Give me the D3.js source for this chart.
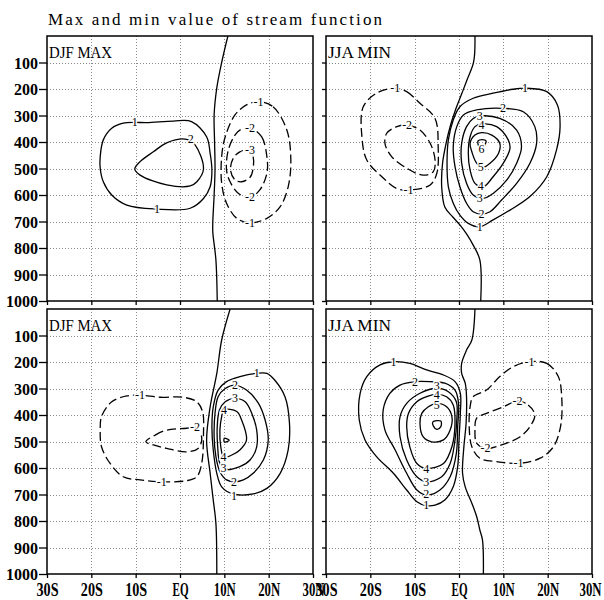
<!DOCTYPE html>
<html><head><meta charset="utf-8">
<script src="https://cdn.jsdelivr.net/npm/d3@7"></script>
<style>body{margin:0;background:#fff}</style>
</head><body>
<svg id="c" width="604" height="600"></svg>
<script>
// ---------- axis data ----------
const latTicks = [-30, -20, -10, 0, 10, 20, 30];
const latLabels = ["30S", "20S", "10S", "EQ", "10N", "20N", "30N"];
const presTicks = [100, 200, 300, 400, 500, 600, 700, 800, 900, 1000];
const presLabels = ["100", "200", "300", "400", "500", "600", "700", "800", "900", "1000"];
const panelTitles = ["DJF MAX", "JJA MIN", "DJF MAX", "JJA MIN"];
const chartTitle = "Max and min value of stream function";

// ---------- contour lines, [latitude, pressure hPa] ----------
// top-left: DJF MAX
const tl_zero = [[10.8,0],[9.4,100],[8.3,196],[7.7,298],[7.8,400],[7.9,502],[7.7,600],[7.4,702],[7.4,740],[8.1,845],[8.4,1000]];
const tl_pos1 = [[-10.2,326],[-12.8,329],[-15.4,348],[-17.3,392],[-18.0,456],[-18.0,499],[-17.3,550],[-15.4,600],[-12.0,638],[-5.3,653],[2.3,650],[5.3,613],[6.8,569],[7.2,506],[6.8,443],[6.0,380],[2.6,323],[-1.5,321],[-7.5,327]];
const tl_pos2 = [[-10.2,502],[-9.0,474],[-6.0,437],[-3.0,403],[1.5,390],[3.4,411],[5.3,502],[3.8,550],[2.3,566],[-3.0,562],[-9.0,525]];
const tl_neg1 = [[17.7,248],[21.0,267],[24.1,355],[25.0,468],[24.4,569],[22.6,644],[19.6,688],[15.8,705],[12.8,688],[10.5,631],[9.4,556],[9.4,455],[10.2,380],[12.4,298],[15.0,260]];
const tl_neg2 = [[15.8,348],[18.4,380],[19.6,455],[19.6,518],[18.0,581],[15.8,609],[13.2,594],[11.3,550],[10.5,506],[10.9,430],[12.4,374],[13.5,355]];
const tl_neg3 = [[15.8,430],[16.5,455],[16.5,499],[15.8,533],[13.9,550],[12.4,543],[11.4,506],[12.0,462],[13.5,437]];
const tl_labels = [["1",-10.2,326],["1",-5.2,653],["2",2.4,390],["-1",17.7,248],["-1",15.8,705],["-2",15.8,348],["-2",15.8,609],["-3",15.8,430]];

// top-right: JJA MIN
const tr_zero = [[3.6,0],[3.3,98],[1.8,166],[0.5,223],[-0.8,279],[-1.9,336],[-2.9,404],[-3.7,479],[-3.9,570],[-3.2,645],[-1.4,683],[0.2,713],[1.7,747],[3.2,789],[4.7,845],[4.9,1000]];
const tr_pos1 = [[14.9,197],[19.8,210],[22.2,260],[22.8,342],[22.0,430],[19.8,531],[16.0,606],[11.5,657],[7.7,694],[4.7,720],[2.1,707],[0.2,676],[-1.3,631],[-2.4,569],[-2.7,480],[-2.4,392],[-1.3,317],[0.2,267],[3.2,235],[7.7,216],[12.2,201]];
const tr_pos2 = [[9.9,273],[14.5,286],[17.1,342],[17.5,405],[16.0,480],[13.0,556],[9.6,619],[7.0,663],[5.1,672],[3.2,663],[1.7,631],[0.2,569],[-0.9,493],[-1.3,418],[-0.5,342],[1.0,298],[4.0,279]];
const tr_pos3 = [[4.7,302],[9.2,311],[13.0,355],[14.1,418],[13.0,480],[10.8,543],[7.7,594],[5.5,613],[3.2,600],[1.7,556],[0.6,480],[0.6,405],[1.7,342],[3.2,311]];
const tr_pos4 = [[5.1,332],[8.5,342],[11.1,392],[11.5,424],[10.0,480],[7.7,531],[5.5,569],[3.6,556],[2.5,506],[2.1,443],[2.5,380],[3.6,342]];
const tr_pos5 = [[5.1,365],[7.4,374],[9.2,405],[8.9,443],[7.0,480],[5.5,495],[4.0,480],[2.9,437],[2.5,405],[3.6,374]];
const tr_pos6 = [[4.3,396],[5.2,391],[6.1,396],[5.6,415],[4.5,415]];
const tr_neg1 = [[-14.4,197],[-11.8,210],[-8.8,254],[-5.4,311],[-4.7,418],[-5.0,518],[-6.5,562],[-11.1,581],[-14.1,575],[-17.4,531],[-20.8,468],[-21.9,380],[-21.6,267],[-18.6,216]];
const tr_neg2 = [[-11.7,336],[-8.8,355],[-6.5,405],[-5.4,468],[-5.8,512],[-8.1,525],[-11.8,499],[-15.2,455],[-16.7,405],[-16.3,367],[-14.0,342]];
const tr_labels = [["1",14.9,197],["1",4.7,720],["2",9.9,273],["2",5.1,670],["3",4.7,300],["3",4.7,613],["4",5.1,334],["4",4.9,566],["5",4.9,495],["6",5.1,428],["-1",-14.4,197],["-1",-11.4,581],["-2",-11.7,336]];

// bottom-left: DJF MAX
const bl_zero = [[11.3,0],[9.4,117],[8.3,243],[6.8,369],[6.0,495],[6.8,620],[7.5,721],[8.1,809],[8.3,1000]];
const bl_pos1 = [[17.3,243],[13.5,255],[10.5,274],[8.6,306],[7.5,369],[7.2,444],[7.5,532],[8.3,620],[9.4,671],[12.0,698],[16.5,698],[19.6,677],[22.6,620],[24.4,532],[24.7,432],[23.7,332],[21.4,269],[19.6,243]];
const bl_pos2 = [[12.4,287],[15.0,306],[17.7,356],[19.2,419],[19.9,495],[18.8,570],[16.5,620],[14.3,645],[12.4,652],[10.5,645],[9.0,614],[8.1,557],[7.7,482],[7.9,394],[8.6,331],[10.2,300]];
const bl_pos3 = [[12.4,337],[14.7,350],[16.2,394],[17.3,457],[17.3,520],[15.8,570],[13.5,595],[10.2,605],[9.0,583],[8.5,520],[8.4,444],[8.9,381],[10.2,350]];
const bl_pos4 = [[9.9,381],[12.8,387],[13.9,419],[15.0,495],[13.5,532],[11.7,551],[9.9,560],[9.2,520],[9.0,457],[9.4,406]];
const bl_pos5 = [[10.0,488],[11.1,495],[10.0,502]];
const bl_neg1 = [[-9.0,325],[-4.5,333],[0.7,333],[3.8,350],[5.1,388],[5.3,469],[4.9,582],[3.8,633],[1.5,648],[-3.8,652],[-9.0,645],[-12.8,633],[-15.8,582],[-17.7,520],[-18.0,457],[-17.7,406],[-15.4,350],[-12.0,328]];
const bl_neg2 = [[-7.7,501],[-5.6,476],[-3.0,457],[1.5,450],[3.4,446],[4.5,463],[4.9,495],[4.1,526],[1.5,539],[-3.0,526],[-6.0,513]];
const bl_labels = [["1",17.3,243],["1",12.2,706],["2",12.4,287],["2",12.2,652],["3",12.4,337],["3",9.8,601],["4",9.9,381],["4",9.8,557],["-1",-9.0,325],["-1",-4.1,652],["-2",3.4,446]];

// bottom-right: JJA MIN
const br_zero = [[3.6,0],[2.9,117],[1.7,155],[0.6,205],[0.6,243],[1.4,280],[1.7,331],[1.6,431],[1.1,520],[0.8,620],[1.4,671],[2.9,733],[4.0,784],[4.7,834],[5.3,872],[5.5,1000]];
const br_pos1 = [[-14.8,199],[-11.1,205],[-7.3,230],[-3.5,249],[-0.9,274],[0.3,318],[0.3,394],[0.0,494],[-0.3,595],[-1.3,671],[-3.2,721],[-5.4,740],[-7.4,742],[-9.5,727],[-11.8,683],[-14.8,620],[-18.6,557],[-21.2,494],[-22.5,419],[-22.3,318],[-20.8,255],[-17.8,211]];
const br_pos2 = [[-9.9,274],[-6.5,274],[-3.2,280],[-0.9,306],[-0.1,356],[-0.3,444],[-0.6,545],[-2.0,633],[-4.3,683],[-7.3,702],[-9.5,683],[-11.8,620],[-14.4,532],[-16.7,457],[-17.1,381],[-15.6,318],[-13.3,287]];
const br_pos3 = [[-5.0,299],[-2.4,312],[-0.6,350],[-0.5,419],[-1.0,507],[-2.0,583],[-3.9,633],[-7.3,652],[-9.5,633],[-11.8,570],[-13.3,482],[-13.3,406],[-11.8,356],[-8.8,318]];
const br_pos4 = [[-5.0,322],[-2.8,331],[-1.3,362],[-0.9,432],[-1.6,520],[-3.5,583],[-7.3,602],[-9.5,583],[-11.1,520],[-11.8,444],[-11.4,394],[-9.5,350],[-7.3,331]];
const br_pos5 = [[-5.0,356],[-2.8,369],[-1.6,406],[-2.0,457],[-3.5,494],[-6.2,501],[-8.1,482],[-8.8,432],[-8.4,394],[-6.9,369]];
const br_pos6 = [[-5.9,426],[-4.1,423],[-4.1,444],[-5.0,454],[-5.8,441]];
const br_neg1 = [[15.9,199],[19.8,205],[22.4,255],[23.2,343],[22.9,444],[21.3,520],[18.3,563],[13.8,582],[8.5,576],[4.7,563],[2.9,520],[2.3,444],[2.5,369],[3.2,331],[6.2,306],[9.2,255],[12.2,218]];
const br_neg2 = [[13.2,347],[15.6,362],[17.1,399],[16.0,444],[13.8,482],[9.6,513],[6.0,526],[4.0,507],[3.6,457],[4.0,412],[6.2,394],[10.0,369]];
const br_labels = [["1",-14.8,199],["1",-7.4,740],["2",-9.9,274],["2",-7.4,698],["3",-5.0,292],["3",-7.4,652],["4",-5.0,326],["4",-7.4,602],["5",-5.0,362],["-1",15.9,199],["-1",13.4,580],["-2",13.2,347],["-2",6.0,526]];

// ---------- build panel specs ----------
const panels = [
  {title: panelTitles[0], zero: tl_zero, pos: [tl_pos1, tl_pos2], neg: [tl_neg1, tl_neg2, tl_neg3], labels: tl_labels, col: 0, row: 0},
  {title: panelTitles[1], zero: tr_zero, pos: [tr_pos1, tr_pos2, tr_pos3, tr_pos4, tr_pos5, tr_pos6], neg: [tr_neg1, tr_neg2], labels: tr_labels, col: 1, row: 0},
  {title: panelTitles[2], zero: bl_zero, pos: [bl_pos1, bl_pos2, bl_pos3, bl_pos4, bl_pos5], neg: [bl_neg1, bl_neg2], labels: bl_labels, col: 0, row: 1},
  {title: panelTitles[3], zero: br_zero, pos: [br_pos1, br_pos2, br_pos3, br_pos4, br_pos5, br_pos6], neg: [br_neg1, br_neg2], labels: br_labels, col: 1, row: 1}
];

const colX = [[47, 313], [326, 592]];
const rowY = [[36, 301], [309, 574]];
const FONT = "'Liberation Serif', 'DejaVu Serif', serif";

const svg = d3.select("#c");
svg.append("rect").attr("width", 604).attr("height", 600).attr("fill", "#fff");

svg.append("text")
  .attr("x", 48).attr("y", 25)
  .attr("font-family", FONT).attr("font-size", 17)
  .attr("textLength", 334).attr("lengthAdjust", "spacing")
  .attr("fill", "#000")
  .text(chartTitle);

panels.forEach(pn => {
  const [x0, x1] = colX[pn.col];
  const [y0, y1] = rowY[pn.row];
  const x = d3.scaleLinear().domain([-30, 30]).range([x0, x1]);
  const y = d3.scaleLinear().domain([0, 1000]).range([y0, y1]);
  const g = svg.append("g");

  const cid = "clip" + pn.col + pn.row;
  svg.append("clipPath").attr("id", cid).append("rect")
    .attr("x", x0).attr("y", y0).attr("width", x1 - x0).attr("height", y1 - y0);

  // grid
  const grid = g.append("g").attr("stroke", "#8a8a8a").attr("stroke-width", 1).attr("stroke-dasharray", "1,2");
  grid.selectAll("line.v").data(latTicks.slice(1, -1)).join("line")
    .attr("x1", d => Math.round(x(d)) + 0.5).attr("x2", d => Math.round(x(d)) + 0.5)
    .attr("y1", y0).attr("y2", y1);
  grid.selectAll("line.h").data(presTicks.slice(0, -1)).join("line")
    .attr("y1", d => Math.round(y(d)) + 0.5).attr("y2", d => Math.round(y(d)) + 0.5)
    .attr("x1", x0).attr("x2", x1);

  const cg = g.append("g").attr("clip-path", `url(#${cid})`)
    .attr("fill", "none").attr("stroke", "#000").attr("stroke-width", 1.3);

  const open = d3.line().x(d => x(d[0])).y(d => y(d[1])).curve(d3.curveCatmullRom.alpha(0.5));
  const closed = d3.line().x(d => x(d[0])).y(d => y(d[1])).curve(d3.curveCatmullRomClosed.alpha(0.5));

  cg.append("path").attr("d", open(pn.zero));
  pn.pos.forEach(c => cg.append("path").attr("d", closed(c)));
  pn.neg.forEach(c => cg.append("path").attr("d", closed(c)).attr("stroke-dasharray", "9,4"));

  // contour labels
  g.append("g").selectAll("text").data(pn.labels).join("text")
    .attr("x", d => x(d[1])).attr("y", d => y(d[2]))
    .attr("text-anchor", "middle").attr("dominant-baseline", "central")
    .attr("font-family", FONT).attr("font-size", 12)
    .attr("fill", "#000").attr("stroke", "#fff").attr("stroke-width", 3)
    .attr("paint-order", "stroke")
    .text(d => d[0]);

  // frame
  g.append("rect").attr("x", x0).attr("y", y0).attr("width", x1 - x0).attr("height", y1 - y0)
    .attr("fill", "none").attr("stroke", "#000").attr("stroke-width", 1.5);

  // left axis
  const ya = d3.axisLeft(y).tickValues(presTicks).tickSize(pn.col === 0 ? 8 : 4)
    .tickFormat((d, i) => pn.col === 0 ? presLabels[i] : "");
  const yg = g.append("g").attr("transform", `translate(${x0},0)`).call(ya);
  yg.select(".domain").remove();
  yg.selectAll("line").attr("stroke", "#000").attr("stroke-width", 1.3);
  yg.selectAll("text").attr("font-family", FONT).attr("font-size", 16).attr("font-weight", "bold")
    .attr("fill", "#000").attr("x", -9).attr("dy", "0.35em");

  // bottom axis
  const xa = d3.axisBottom(x).tickValues(latTicks).tickSize(4)
    .tickFormat((d, i) => pn.row === 1 ? latLabels[i] : "");
  const xg = g.append("g").attr("transform", `translate(0,${y1})`).call(xa);
  xg.select(".domain").remove();
  xg.selectAll("line").attr("stroke", "#000").attr("stroke-width", 1.3);
  xg.selectAll("text").attr("font-family", FONT).attr("font-size", 19).attr("font-weight", "bold")
    .attr("fill", "#000").attr("y", 6).attr("dy", "0.85em")
    .attr("dx", (d, i) => (pn.col === 1 && i === latTicks.length - 1) ? -2 : 0)
    .attr("textLength", (d, i) => latLabels[i].length === 2 ? 16 : 22)
    .attr("lengthAdjust", "spacingAndGlyphs");

  // panel title
  g.append("text").attr("x", x0 + 2).attr("y", y0 + 22)
    .attr("font-family", FONT).attr("font-size", 17).attr("fill", "#000")
    .attr("textLength", 63).attr("lengthAdjust", "spacingAndGlyphs")
    .text(pn.title);
});
</script>
</body></html>
